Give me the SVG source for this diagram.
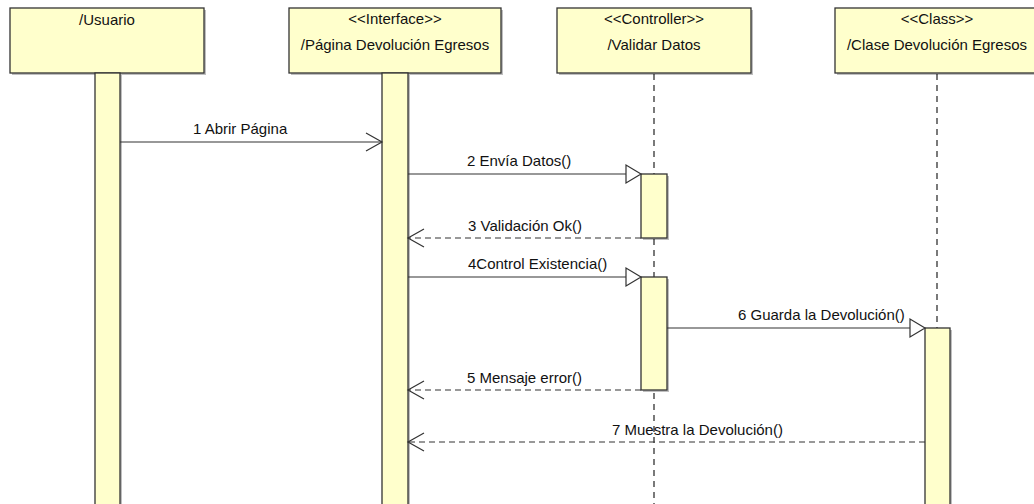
<svg xmlns="http://www.w3.org/2000/svg" width="1034" height="504" viewBox="0 0 1034 504">
<style>
.box{fill:#FFFFCC;stroke:#333;stroke-width:1.3}
.shadow{fill:#000;opacity:0.25}
.act{fill:#FFFFCC;stroke:#333;stroke-width:1.3}
.life{stroke:#333;stroke-width:1.3;stroke-dasharray:6,5;fill:none}
.msg{stroke:#333;stroke-width:1.2;fill:none}
.ret{stroke:#333;stroke-width:1.2;fill:none;stroke-dasharray:6,4}
.head{stroke:#333;stroke-width:1.2;fill:none}
.tri{stroke:#333;stroke-width:1.2;fill:#fff}
text{font-family:"Liberation Sans",Arial,sans-serif;font-size:15px;fill:#111}
.c{text-anchor:middle}
</style>
<rect width="1034" height="504" fill="#fff"/>
<g id="lifelines">
<line class="life" x1="654" y1="74" x2="654" y2="504"/>
<line class="life" x1="937" y1="74" x2="937" y2="328"/>
</g>
<g id="usuario">
<rect class="shadow" x="12" y="10" width="194" height="65"/>
<rect class="box" x="10" y="8" width="194" height="65"/>
<text class="c" x="107" y="25">/Usuario</text>
<rect class="shadow" x="97" y="75" width="25" height="440"/>
<rect class="act" x="95" y="73" width="25" height="440"/>
</g>
<g id="interface">
<rect class="shadow" x="291" y="10" width="212" height="65"/>
<rect class="box" x="289" y="8" width="212" height="65"/>
<text class="c" x="395" y="24">&lt;&lt;Interface&gt;&gt;</text>
<text class="c" x="395" y="50">/Página Devolución Egresos</text>
<rect class="shadow" x="384" y="75" width="26" height="440"/>
<rect class="act" x="382" y="73" width="26" height="440"/>
</g>
<g id="controller">
<rect class="shadow" x="559" y="10" width="194" height="65"/>
<rect class="box" x="557" y="8" width="194" height="65"/>
<text class="c" x="654" y="24">&lt;&lt;Controller&gt;&gt;</text>
<text class="c" x="654" y="50">/Validar Datos</text>
<rect class="shadow" x="643" y="176" width="26" height="64"/>
<rect class="act" x="641" y="174" width="26" height="64"/>
<rect class="shadow" x="643" y="279" width="26" height="113"/>
<rect class="act" x="641" y="277" width="26" height="113"/>
</g>
<g id="clase">
<rect class="shadow" x="837" y="10" width="204" height="65"/>
<rect class="box" x="835" y="8" width="204" height="65"/>
<text class="c" x="937" y="24">&lt;&lt;Class&gt;&gt;</text>
<text class="c" x="937" y="50">/Clase Devolución Egresos</text>
<rect class="shadow" x="927" y="330" width="25" height="190"/>
<rect class="act" x="925" y="328" width="25" height="190"/>
</g>
<g id="connectors">
<line class="msg" x1="120" y1="142" x2="382" y2="142"/>
<polyline class="head" points="366,133 382,142 366,151"/>
<text x="193" y="134">1 Abrir Página</text>

<line class="msg" x1="408" y1="174" x2="626" y2="174"/>
<polygon class="tri" points="641,174 626,165 626,183"/>
<text x="467" y="166">2 Envía Datos()</text>

<line class="ret" x1="641" y1="238" x2="408" y2="238"/>
<polyline class="head" points="424,229 408,238 424,247"/>
<text x="468" y="231">3 Validación Ok()</text>

<line class="msg" x1="408" y1="277" x2="626" y2="277"/>
<polygon class="tri" points="641,277 626,268 626,286"/>
<text x="468" y="269">4Control Existencia()</text>

<line class="msg" x1="667" y1="328" x2="910" y2="328"/>
<polygon class="tri" points="925,328 910,319 910,337"/>
<text x="738" y="320">6 Guarda la Devolución()</text>

<line class="ret" x1="641" y1="390" x2="408" y2="390"/>
<polyline class="head" points="424,381 408,390 424,399"/>
<text x="467" y="383">5 Mensaje error()</text>

<line class="ret" x1="925" y1="442" x2="408" y2="442"/>
<polyline class="head" points="424,433 408,442 424,451"/>
<text x="612" y="435">7 Muestra la Devolución()</text>
</g>
</svg>
